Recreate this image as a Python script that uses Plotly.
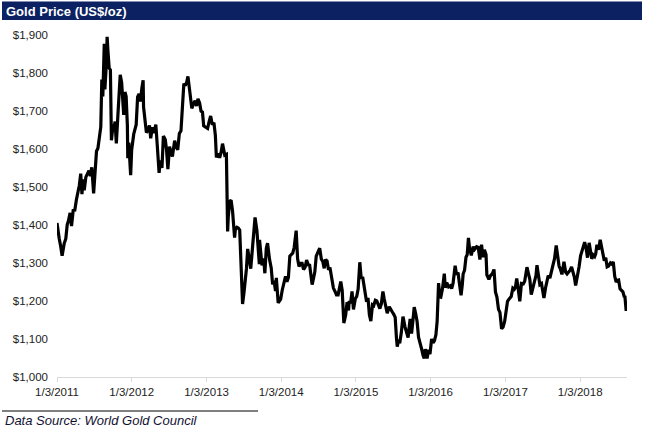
import plotly.graph_objects as go

# gold price (US$/oz)
dates = [
    "2011-01-03", "2011-01-10", "2011-01-14", "2011-01-21", "2011-01-28", "2011-02-07", "2011-02-15",
    "2011-02-22", "2011-02-28", "2011-03-08", "2011-03-15", "2011-03-23", "2011-03-31", "2011-04-08",
    "2011-04-15", "2011-04-22", "2011-04-29", "2011-05-05", "2011-05-10", "2011-05-16", "2011-05-24",
    "2011-05-31", "2011-06-08", "2011-06-15", "2011-06-22", "2011-07-01", "2011-07-08", "2011-07-15",
    "2011-07-22", "2011-07-29", "2011-08-05", "2011-08-10", "2011-08-15", "2011-08-22", "2011-08-25",
    "2011-08-31", "2011-09-05", "2011-09-09", "2011-09-15", "2011-09-21", "2011-09-26", "2011-10-04",
    "2011-10-10", "2011-10-14", "2011-10-20", "2011-10-31", "2011-11-08", "2011-11-15", "2011-11-22",
    "2011-11-25", "2011-12-01", "2011-12-07", "2011-12-13", "2011-12-15", "2011-12-20", "2011-12-29",
    "2012-01-03", "2012-01-13", "2012-01-25", "2012-02-01", "2012-02-08", "2012-02-15", "2012-02-22",
    "2012-02-28", "2012-03-01", "2012-03-08", "2012-03-15", "2012-03-22", "2012-03-30", "2012-04-05",
    "2012-04-13", "2012-04-20", "2012-04-30", "2012-05-08", "2012-05-16", "2012-05-22", "2012-05-30",
    "2012-06-06", "2012-06-15", "2012-06-21", "2012-06-28", "2012-07-06", "2012-07-13", "2012-07-20",
    "2012-07-31", "2012-08-08", "2012-08-15", "2012-08-23", "2012-08-31", "2012-09-07", "2012-09-14",
    "2012-09-21", "2012-09-28", "2012-10-04", "2012-10-10", "2012-10-15", "2012-10-23", "2012-10-31",
    "2012-11-08", "2012-11-15", "2012-11-22", "2012-11-30", "2012-12-07", "2012-12-14", "2012-12-20",
    "2012-12-28", "2013-01-08", "2013-01-15", "2013-01-23", "2013-01-31", "2013-02-08", "2013-02-15",
    "2013-02-20", "2013-02-28", "2013-03-08", "2013-03-15", "2013-03-22", "2013-03-28", "2013-04-02",
    "2013-04-10", "2013-04-12", "2013-04-16", "2013-04-19", "2013-04-26", "2013-05-03", "2013-05-10",
    "2013-05-20", "2013-05-24", "2013-05-31", "2013-06-07", "2013-06-14", "2013-06-20", "2013-06-28",
    "2013-07-05", "2013-07-10", "2013-07-17", "2013-07-23", "2013-08-01", "2013-08-07", "2013-08-15",
    "2013-08-20", "2013-08-28", "2013-09-06", "2013-09-12", "2013-09-18", "2013-09-19", "2013-10-01",
    "2013-10-09", "2013-10-15", "2013-10-22", "2013-10-28", "2013-11-07", "2013-11-15", "2013-11-22",
    "2013-11-29", "2013-12-06", "2013-12-10", "2013-12-19", "2013-12-31", "2014-01-08", "2014-01-15",
    "2014-01-24", "2014-01-31", "2014-02-07", "2014-02-14", "2014-02-21", "2014-02-28", "2014-03-07",
    "2014-03-17", "2014-03-24", "2014-03-31", "2014-04-08", "2014-04-15", "2014-04-22", "2014-04-30",
    "2014-05-07", "2014-05-15", "2014-05-22", "2014-06-03", "2014-06-10", "2014-06-16", "2014-06-23",
    "2014-07-01", "2014-07-10", "2014-07-18", "2014-07-25", "2014-08-01", "2014-08-08", "2014-08-15",
    "2014-08-22", "2014-08-29", "2014-09-08", "2014-09-15", "2014-09-23", "2014-09-30", "2014-10-08",
    "2014-10-15", "2014-10-21", "2014-10-28", "2014-11-05", "2014-11-14", "2014-11-21", "2014-11-28",
    "2014-12-01", "2014-12-08", "2014-12-15", "2014-12-22", "2014-12-31", "2015-01-07", "2015-01-14",
    "2015-01-22", "2015-01-29", "2015-02-05", "2015-02-16", "2015-02-24", "2015-03-03", "2015-03-10",
    "2015-03-17", "2015-03-25", "2015-03-31", "2015-04-08", "2015-04-15", "2015-04-22", "2015-04-30",
    "2015-05-07", "2015-05-15", "2015-05-21", "2015-05-29", "2015-06-05", "2015-06-15", "2015-06-22",
    "2015-06-30", "2015-07-07", "2015-07-14", "2015-07-20", "2015-07-24", "2015-07-31", "2015-08-05",
    "2015-08-13", "2015-08-21", "2015-08-31", "2015-09-08", "2015-09-15", "2015-09-25", "2015-10-02",
    "2015-10-08", "2015-10-15", "2015-10-22", "2015-10-29", "2015-11-05", "2015-11-16", "2015-11-20",
    "2015-11-27", "2015-12-03", "2015-12-08", "2015-12-14", "2015-12-17", "2015-12-24", "2015-12-31",
    "2016-01-08", "2016-01-15", "2016-01-22", "2016-01-29", "2016-02-04", "2016-02-11", "2016-02-17",
    "2016-02-22", "2016-03-01", "2016-03-10", "2016-03-15", "2016-03-22", "2016-03-31", "2016-04-08",
    "2016-04-15", "2016-04-22", "2016-04-29", "2016-05-02", "2016-05-09", "2016-05-16", "2016-05-24",
    "2016-05-31", "2016-06-06", "2016-06-10", "2016-06-17", "2016-06-24", "2016-06-30", "2016-07-06",
    "2016-07-12", "2016-07-20", "2016-07-29", "2016-08-05", "2016-08-15", "2016-08-23", "2016-08-31",
    "2016-09-08", "2016-09-15", "2016-09-22", "2016-09-30", "2016-10-04", "2016-10-14", "2016-10-21",
    "2016-10-31", "2016-11-08", "2016-11-15", "2016-11-22", "2016-11-30", "2016-12-07", "2016-12-15",
    "2016-12-22", "2016-12-30", "2017-01-06", "2017-01-13", "2017-01-20", "2017-01-31", "2017-02-08",
    "2017-02-15", "2017-02-21", "2017-02-27", "2017-03-06", "2017-03-14", "2017-03-22", "2017-03-31",
    "2017-04-07", "2017-04-18", "2017-04-25", "2017-05-02", "2017-05-09", "2017-05-17", "2017-05-24",
    "2017-06-01", "2017-06-06", "2017-06-13", "2017-06-20", "2017-06-28", "2017-07-05", "2017-07-10",
    "2017-07-18", "2017-07-25", "2017-07-31", "2017-08-08", "2017-08-15", "2017-08-22", "2017-08-31",
    "2017-09-08", "2017-09-15", "2017-09-22", "2017-09-29", "2017-10-06", "2017-10-16", "2017-10-24",
    "2017-10-31", "2017-11-08", "2017-11-15", "2017-11-22", "2017-11-30", "2017-12-06", "2017-12-12",
    "2017-12-20", "2017-12-29", "2018-01-05", "2018-01-15", "2018-01-25", "2018-02-01", "2018-02-08",
    "2018-02-16", "2018-02-23", "2018-03-01", "2018-03-08", "2018-03-15", "2018-03-20", "2018-03-26",
    "2018-04-03", "2018-04-11", "2018-04-20", "2018-04-26", "2018-05-01", "2018-05-08", "2018-05-15",
    "2018-05-22", "2018-05-31", "2018-06-07", "2018-06-14", "2018-06-21", "2018-06-28", "2018-07-03",
    "2018-07-10", "2018-07-17", "2018-07-24", "2018-07-31", "2018-08-06", "2018-08-10", "2018-08-16",
    "2018-08-17",
]
prices = [
    1405, 1372, 1364, 1344, 1319, 1351, 1364,
    1401, 1411, 1432, 1397, 1438, 1439, 1467,
    1486, 1504, 1535, 1481, 1520, 1491, 1526,
    1536, 1543, 1529, 1552, 1483, 1530, 1594,
    1602, 1628, 1658, 1783, 1738, 1877, 1757,
    1813, 1895, 1858, 1813, 1808, 1623, 1663,
    1660, 1672, 1615, 1721, 1795, 1775, 1717,
    1690, 1750, 1738, 1662, 1576, 1617, 1531,
    1598, 1639, 1664, 1737, 1745, 1725, 1761,
    1781, 1711, 1684, 1643, 1649, 1662, 1628,
    1657, 1642, 1664, 1602, 1537, 1570, 1550,
    1634, 1625, 1600, 1547, 1606, 1589, 1580,
    1622, 1604, 1598, 1641, 1648, 1710, 1772,
    1767, 1776, 1791, 1766, 1750, 1707, 1719,
    1727, 1713, 1732, 1721, 1700, 1697, 1661,
    1658, 1654, 1671, 1687, 1664, 1669, 1636,
    1578, 1588, 1577, 1591, 1614, 1598, 1584,
    1586, 1501, 1383, 1421, 1462, 1465, 1437,
    1367, 1389, 1394, 1392, 1387, 1280, 1192,
    1222, 1247, 1285, 1337, 1310, 1285, 1337,
    1365, 1420, 1386, 1346, 1297, 1361, 1294,
    1312, 1273, 1339, 1352, 1309, 1287, 1244,
    1253, 1226, 1261, 1195, 1204, 1229, 1244,
    1265, 1251, 1262, 1318, 1321, 1326, 1340,
    1385, 1311, 1291, 1299, 1299, 1283, 1289,
    1308, 1295, 1294, 1243, 1260, 1276, 1318,
    1327, 1339, 1310, 1304, 1286, 1309, 1305,
    1282, 1288, 1251, 1234, 1225, 1216, 1216,
    1233, 1251, 1228, 1142, 1163, 1197, 1175,
    1200, 1194, 1225, 1178, 1206, 1212, 1232,
    1302, 1259, 1263, 1220, 1198, 1208, 1163,
    1147, 1190, 1188, 1202, 1200, 1189, 1180,
    1192, 1225, 1206, 1190, 1168, 1185, 1176,
    1171, 1165, 1157, 1104, 1080, 1098, 1089,
    1117, 1159, 1132, 1120, 1104, 1153, 1114,
    1145, 1184, 1167, 1146, 1105, 1085, 1074,
    1057, 1049, 1073, 1065, 1049, 1072, 1060,
    1100, 1090, 1096, 1111, 1146, 1247, 1211,
    1210, 1232, 1272, 1235, 1248, 1237, 1240,
    1233, 1247, 1285, 1293, 1269, 1275, 1242,
    1215, 1243, 1271, 1281, 1315, 1322, 1366,
    1336, 1320, 1343, 1336, 1343, 1341, 1309,
    1348, 1315, 1335, 1322, 1269, 1257, 1266,
    1272, 1283, 1224, 1211, 1178, 1170, 1127,
    1131, 1146, 1173, 1199, 1205, 1212, 1234,
    1231, 1237, 1259, 1233, 1199, 1246, 1245,
    1252, 1289, 1273, 1257, 1217, 1235, 1253,
    1267, 1294, 1263, 1243, 1246, 1223, 1208,
    1235, 1252, 1267, 1260, 1275, 1287, 1312,
    1346, 1322, 1292, 1283, 1270, 1303, 1276,
    1271, 1276, 1281, 1290, 1275, 1262, 1241,
    1263, 1291, 1319, 1338, 1355, 1339, 1314,
    1353, 1331, 1311, 1321, 1317, 1324, 1348,
    1335, 1361, 1336, 1320, 1306, 1314, 1290,
    1292, 1300, 1297, 1303, 1265, 1250, 1254,
    1255, 1232, 1228, 1224, 1212, 1211, 1174,
    1184,
]

tick_vals = ["2011-01-03", "2012-01-03", "2013-01-03", "2014-01-03",
             "2015-01-03", "2016-01-03", "2017-01-03", "2018-01-03"]
tick_text = ["1/3/2011", "1/3/2012", "1/3/2013", "1/3/2014",
             "1/3/2015", "1/3/2016", "1/3/2017", "1/3/2018"]
y_ticks = [1000, 1100, 1200, 1300, 1400, 1500, 1600, 1700, 1800, 1900]
y_text = ["$1,000", "$1,100", "$1,200", "$1,300", "$1,400",
          "$1,500", "$1,600", "$1,700", "$1,800", "$1,900"]

fig = go.Figure()
fig.add_trace(go.Scatter(x=dates, y=prices, mode="lines",
                         line=dict(color="black", width=3.2)))

# plot area in window pixels: 57..627 wide, 35..377 tall
W, H = 646, 431
L, R, T, B = 57, 19, 35, 54
pw, ph = W - L - R, H - T - B


def px_x(p):
    return (p - L) / pw


def px_y(p):
    return (H - B - p) / ph


fig.update_layout(
    width=W, height=H,
    margin=dict(l=L, r=R, t=T, b=B),
    paper_bgcolor="white", plot_bgcolor="white",
    showlegend=False,
    font=dict(family="Liberation Sans, Arial", size=11, color="#333333"),
    xaxis=dict(
        type="date", range=["2011-01-03", "2018-08-20"],
        tickvals=tick_vals, ticktext=tick_text,
        showgrid=False, zeroline=False,
        showline=True, linecolor="#d9d9d9", linewidth=1,
        ticks="outside", ticklen=4, tickcolor="#d9d9d9",
        tickfont=dict(size=11.5, color="#222222"),
    ),
    yaxis=dict(
        range=[1000, 1900], tickvals=y_ticks, ticktext=y_text,
        showgrid=False, zeroline=False, showline=False,
        ticks="", ticklabelstandoff=8,
        tickfont=dict(size=11.5, color="#222222"),
    ),
    shapes=[
        # title bar
        dict(type="rect", xref="paper", yref="paper",
             x0=px_x(2), x1=px_x(642), y0=px_y(20), y1=px_y(1.5),
             fillcolor="#0b2161", line=dict(width=0), layer="below"),
        # line above footnote
        dict(type="line", xref="paper", yref="paper",
             x0=px_x(2), x1=px_x(258), y0=px_y(411), y1=px_y(411),
             line=dict(color="black", width=1)),
    ],
    annotations=[
        dict(text="<b>Gold Price (US$/oz)</b>", xref="paper", yref="paper",
             x=px_x(4), y=px_y(11), xanchor="left", yanchor="middle",
             showarrow=False, font=dict(size=13, color="white")),
        dict(text="<i>Data Source: World Gold Council</i>", xref="paper", yref="paper",
             x=px_x(3), y=px_y(420), xanchor="left", yanchor="middle",
             showarrow=False, font=dict(size=13, color="#111133")),
    ],
)

# drop the browser's default 8px body margin so the figure fills the window
fig.write_html("out.html", config={"displayModeBar": False},
               post_script="document.body.style.margin='0';")
